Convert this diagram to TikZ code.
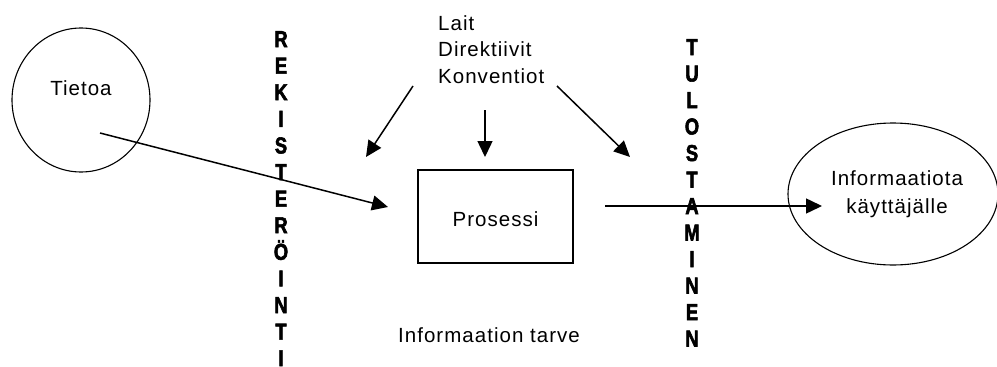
\documentclass[tikz,border=0pt]{standalone}
\usepackage{fontspec}
\setmainfont{Liberation Sans}
\newfontfamily\lblfont{Liberation Sans}[LetterSpace=5]
% heavy, narrow capitals for the vertical stage labels
\newfontfamily\capfont{Liberation Sans Bold}[FakeStretch=0.8,FakeBold=2.5]
\usetikzlibrary{arrows.meta,shapes.geometric}

\begin{document}
\begin{tikzpicture}[x=1pt,y=-1pt,
  txt/.style={inner sep=0pt,font=\lblfont\fontsize{20.5}{26.5}\selectfont},
  colletter/.style={inner sep=0pt,anchor=base,font=\capfont\fontsize{23}{26}\selectfont},
  arr/.style={line width=1.5pt,-{Triangle[length=16pt,width=15pt]}},
  outline/.style={draw,line width=1.1pt}]
\useasboundingbox[fill=white] (0,0) rectangle (997,367);

% data source
\node[outline,ellipse,minimum width=138pt,minimum height=144pt,inner sep=0pt] (tietoa) at (81,100) {};
\node[txt,anchor=base] (tietoatext) at (81,95) {Tietoa};

% process box
\node[outline,rectangle,minimum width=155pt,minimum height=93pt,inner sep=0pt,
      txt,text height=21pt] (proc) at (495.5,216.5) {Prosessi};

% information delivered
\node[outline,ellipse,minimum width=210pt,minimum height=142pt,inner sep=0pt,
      txt,align=center,font=\lblfont\fontsize{20.5}{28}\selectfont] (user) at (893,194)
      {\hspace{8pt}Informaatiota\\\hspace{8pt}käyttäjälle};

% regulations
\node[txt,anchor=north west,align=left] (laws) at (438,15) {Lait\\Direktiivit\\Konventiot};

% information need
\node[txt,anchor=base] (need) at (489,342) {Informaation tarve};

% vertical stage labels
\foreach \c [count=\i] in {R,E,K,I,S,T,E,R,Ö,I,N,T,I}
  \node[colletter] (rek-\i) at (281,{47+26.6*(\i-1)}) {\c};
\foreach \c [count=\i] in {T,U,L,O,S,T,A,M,I,N,E,N}
  \node[colletter] (tul-\i) at (692,{55+26.5*(\i-1)}) {\c};

% connector end points
\coordinate (inA) at (100,133);
\coordinate (inB) at (388,207);
\coordinate (lawL0) at (413,86);
\coordinate (lawL1) at (366,157);
\coordinate (lawM0) at (485,110);
\coordinate (lawM1) at (485,157);
\coordinate (lawR0) at (557,86);
\coordinate (lawR1) at (630,157);
\coordinate (outA) at (605,206);
\coordinate (outB) at (822,206);

\draw[arr] (inA) -- (inB);
\draw[arr] (lawL0) -- (lawL1);
\draw[arr] (lawM0) -- (lawM1);
\draw[arr] (lawR0) -- (lawR1);
\draw[arr] (outA) -- (outB);
\end{tikzpicture}
\end{document}
